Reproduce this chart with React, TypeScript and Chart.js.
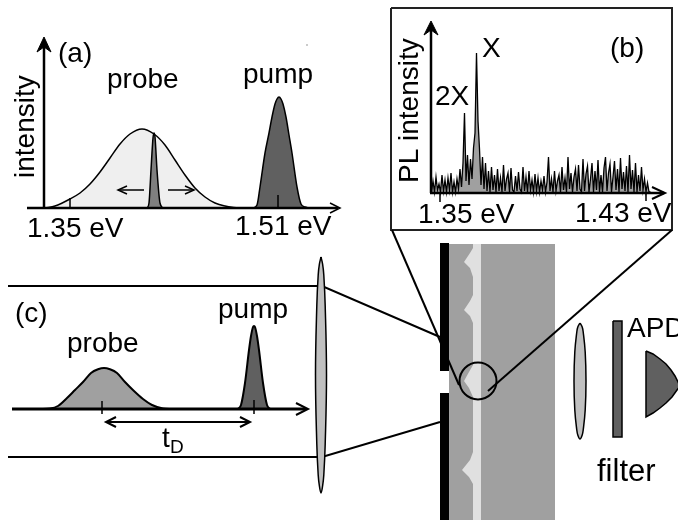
import React, { useEffect, useRef } from "react";
import { Chart, registerables } from "chart.js";

Chart.register(...registerables);

type P = [number, number];

// Panel (a): energy spectrum curves
const probeSpectrum: P[] = [[45,208],[55,206],[70,199],[80,193],[90,184],[100,172],[110,158],[120,144],[130,134],[142,129],[154,134],[165,145],[175,160],[185,175],[195,188],[205,197],[215,203],[225,206],[238,208]];
const narrowSpectrum: P[] = [[147,208],[149,203],[151,170],[153,138],[154,133],[155,137],[157,170],[160,203],[163,208]];
const pumpSpectrum: P[] = [[253,208],[257,205],[260,187],[265,153],[269,133],[272,117],[275,104],[277,99],[279,97],[281,99],[283,104],[286,117],[289,135],[292,153],[297,187],[301,204],[305,207],[309,208]];

// Panel (b): PL spectrum, height above the axis at each sample
const plSpectrum: number[] = [
  1,12,1,16,3,9,1,18,2,13,
  1,15,3,20,1,11,1,14,4,24,
  6,30,80,12,38,8,34,14,45,60,
  140,72,44,8,36,4,30,2,22,1,
  26,3,18,1,24,2,15,1,28,2,
  14,20,1,25,3,1,17,2,21,4,
  1,26,2,16,1,22,3,13,1,19,
  2,15,1,12,3,17,1,11,36,2,
  14,1,22,2,12,18,1,26,3,15,
  1,36,4,20,1,16,24,2,28,4,
  1,34,2,19,27,1,14,30,1,22,
  3,33,1,18,1,25,36,2,20,29,
  1,16,32,3,24,1,35,4,21,2,
  27,1,38,4,23,1,30,1,18,2,
  26,3,14,1,10,1,1,
];

// Panel (c): time-domain pulses
const probePulse: P[] = [[40,409],[50,408.5],[58,406],[67,398],[75,390],[83,382],[91,373],[98,369.3],[104,368],[110,369.3],[117,373],[125,382],[134,391],[143,399],[152,405],[163,408.5],[172,409]];
const pumpPulse: P[] = [[238,409],[241,405],[245,383],[249,350],[251,336],[253,327],[254,326],[255,327],[257,336],[259,350],[263,383],[267,405],[270,409]];

// Setup outlines
const bigLens: P[] = [[321,257],[322.6,264],[323.8,275],[325.2,306],[326.5,375],[325.2,444],[323.8,475],[322.6,486],[321,493],[319.4,486],[318.2,475],[316.8,444],[315.5,375],[316.8,306],[318.2,275],[319.4,264],[321,257]];
const smallLens: P[] = [[580,323],[582.2,327],[583.2,332],[585.2,352],[586,381],[585.2,410],[583.2,430],[582.2,435],[580,439],[577.8,435],[576.8,430],[574.8,410],[574,381],[574.8,352],[576.8,332],[577.8,327],[580,323]];
const sampleBody: P[] = [[449,244],[555,244],[555,520],[449,520],[449,244]];
const sampleLayer: P[] = [[481,244],[473,244],[473,248],[470,253],[464,262],[470,268],[473,277],[473,295],[470,301],[464,310],[470,316],[473,323],[473,365],[469,372],[464,381],[469,388],[473,397],[473,452],[470,460],[462,470],[469,477],[473,484],[473,520],[481,520],[481,244]];
const maskUpper: P[] = [[440,243],[449,243],[449,371],[440,371],[440,243]];
const maskLower: P[] = [[440,393],[449,393],[449,520],[440,520],[440,393]];
const filterPlate: P[] = [[613,321],[622,321],[622,437],[613,437],[613,321]];
const apdBody: P[] = [[646,351],[653,354],[660,359],[666,364],[671,370],[675,376],[678,382],[680,386],[677,390],[672,397],[666,403],[660,408],[653,413],[646,417],[646,351]];
const insetBox: P[] = [[391,8],[672,8],[672,230],[391,230],[391,8]];
const focus: P[] = [[478,381]];
const speck: P[] = [[307,45]];

// Rays and guide lines
const rays: P[][] = [
  [[8,286],[322,286],[440,337]],
  [[8,457],[322,457],[440,422]],
  [[392,230],[459,385]],
  [[672,230],[488,391]],
];

// Axes, ticks, arrows
const axisLines: { pts: P[]; w: number }[] = [
  { pts: [[44,208],[44,45]], w: 2.5 },
  { pts: [[27,208],[338,208]], w: 2.5 },
  { pts: [[330,203],[340,208],[330,213]], w: 1.5 },
  { pts: [[70,198],[70,208]], w: 1.5 },
  { pts: [[278,195],[278,208]], w: 1.5 },
  { pts: [[144,190],[118,190]], w: 1.5 },
  { pts: [[127,186],[118,190],[127,194]], w: 1.5 },
  { pts: [[168,190],[194,190]], w: 1.5 },
  { pts: [[185,186],[194,190],[185,194]], w: 1.5 },
  { pts: [[431,193],[431,30]], w: 2.5 },
  { pts: [[430,193],[664,193]], w: 2.5 },
  { pts: [[652,187],[665,193],[652,199]], w: 2 },
  { pts: [[440,193],[440,202]], w: 1.5 },
  { pts: [[646,193],[646,201]], w: 1.5 },
  { pts: [[12,409],[306,409]], w: 3 },
  { pts: [[296,403],[308,409],[296,415]], w: 2 },
  { pts: [[102,401],[102,414]], w: 1.5 },
  { pts: [[254,400],[254,414]], w: 1.5 },
  { pts: [[106,422],[250,422]], w: 2 },
  { pts: [[116,417],[106,422],[116,427]], w: 2 },
  { pts: [[240,417],[250,422],[240,427]], w: 2 },
];
const arrowTips: P[][] = [
  [[37,52],[44,37],[51,52],[44,47],[37,52]],
  [[424,35],[431,21],[438,35],[431,30],[424,35]],
];

// Text
const labelTexts = ["(a)", "probe", "pump", "1.35 eV", "1.51 eV", "intensity", "(b)", "X", "2X", "1.35 eV", "1.43 eV", "PL intensity", "(c)", "probe", "pump", "t", "D", "APD", "filter"];
const labelPlacement: { x: number; y: number; size?: number; rot?: boolean }[] = [
  { x: 58, y: 62 }, { x: 107, y: 88 }, { x: 243, y: 83 }, { x: 27, y: 237 }, { x: 235, y: 235 },
  { x: 34, y: 178, rot: true }, { x: 610, y: 57 }, { x: 482, y: 57 }, { x: 435, y: 105 },
  { x: 418, y: 223 }, { x: 575, y: 222 }, { x: 418, y: 183, rot: true }, { x: 15, y: 322 },
  { x: 67, y: 352 }, { x: 218, y: 318 }, { x: 162, y: 447 }, { x: 170, y: 453, size: 19 },
  { x: 627, y: 337 }, { x: 597, y: 481, size: 31 },
];

const toXY = (pts: P[]) => pts.map(([x, y]) => ({ x, y }));

const polygonFill = {
  id: "polygonFill",
  beforeDatasetDraw(chart: any, args: any) {
    const ds = chart.data.datasets[args.index];
    if (!ds.polygonColor) return;
    const line = args.meta.dataset;
    const ctx = chart.ctx;
    line.updateControlPoints(chart.chartArea);
    ctx.save();
    ctx.fillStyle = ds.polygonColor;
    ctx.beginPath();
    line.path(ctx);
    ctx.closePath();
    ctx.fill();
    ctx.restore();
  },
};

const textLabels = {
  id: "textLabels",
  afterDraw(chart: any) {
    const { ctx, scales } = chart;
    labelTexts.forEach((text, i) => {
      const p = labelPlacement[i];
      ctx.save();
      ctx.fillStyle = "#000";
      ctx.font = `${p.size ?? 28}px "Liberation Sans", Arial, sans-serif`;
      ctx.textAlign = "left";
      ctx.textBaseline = "alphabetic";
      ctx.translate(scales.x.getPixelForValue(p.x), scales.y.getPixelForValue(p.y));
      if (p.rot) ctx.rotate(-Math.PI / 2);
      ctx.fillText(text, 0, 0);
      ctx.restore();
    });
  },
};

export default function App() {
  const ref = useRef<HTMLCanvasElement>(null);
  useEffect(() => {
    if (!ref.current) return;
    const base = { showLine: true, pointRadius: 0, borderColor: "#000", borderWidth: 1.5, fill: false, tension: 0 };
    const poly = (pts: P[], color: string, extra: any = {}) => ({ ...base, data: toXY(pts), polygonColor: color, ...extra });
    const curve = (pts: P[], color: string, baseline: number, extra: any = {}) => ({
      ...base,
      data: toXY(pts),
      cubicInterpolationMode: "monotone",
      backgroundColor: color,
      fill: { target: { value: baseline } },
      ...extra,
    });
    const line = (pts: P[], w: number, extra: any = {}) => ({ ...base, data: toXY(pts), borderWidth: w, ...extra });

    const plPoints: P[] = plSpectrum.map((h, i) => [431.5 + i * 1.5, 193 - h]);

    const list: any[] = [
      poly(insetBox, "#ffffff", { borderWidth: 2, borderColor: "#222" }),
      poly(sampleBody, "#a0a0a0", { borderWidth: 0 }),
      poly(sampleLayer, "#e0e0e0", { borderWidth: 0 }),
      ...rays.map((r) => line(r, 2)),
      poly(maskUpper, "#000000", { borderWidth: 0 }),
      poly(maskLower, "#000000", { borderWidth: 0 }),
      poly(bigLens, "#c0c0c0", { tension: 0.4, borderWidth: 1.5 }),
      poly(smallLens, "#c0c0c0", { tension: 0.4, borderWidth: 1.5 }),
      poly(filterPlate, "#606060", { borderWidth: 1.5 }),
      poly(apdBody, "#606060", { borderWidth: 1.5 }),
      curve(probeSpectrum, "#efefef", 208),
      curve(narrowSpectrum, "#7f7f7f", 208),
      curve(pumpSpectrum, "#606060", 208),
      curve(probePulse, "#a0a0a0", 409, { borderWidth: 2 }),
      curve(pumpPulse, "#606060", 409, { borderWidth: 2 }),
      line(plPoints, 1.3, { backgroundColor: "#a0a0a0", fill: { target: { value: 193 } } }),
      ...axisLines.map((a) => line(a.pts, a.w)),
      ...arrowTips.map((t) => poly(t, "#000000", { borderWidth: 1 })),
      {
        data: toXY(focus),
        showLine: false,
        pointRadius: 18.5,
        pointBorderWidth: 2,
        pointBorderColor: "#000",
        pointBackgroundColor: "rgba(0,0,0,0)",
      },
      { data: toXY(speck), showLine: false, pointRadius: 0.8, pointBorderWidth: 0, pointBackgroundColor: "#888" },
    ];
    list.forEach((d, i) => (d.order = list.length - i));

    const chart = new Chart(ref.current, {
      type: "scatter",
      data: { datasets: list },
      options: {
        animation: false,
        responsive: false,
        devicePixelRatio: 1,
        layout: { padding: 0, autoPadding: false },
        events: [],
        scales: {
          x: { type: "linear", display: false, min: 0, max: 678 },
          y: { type: "linear", display: false, min: 0, max: 523, reverse: true },
        },
        plugins: { legend: { display: false }, tooltip: { enabled: false } },
      } as any,
      plugins: [polygonFill, textLabels],
    });
    return () => chart.destroy();
  }, []);
  return (
    <canvas
      ref={ref}
      width={678}
      height={523}
      style={{ position: "fixed", left: 0, top: 0, width: 678, height: 523, display: "block", background: "#fff" }}
    />
  );
}
